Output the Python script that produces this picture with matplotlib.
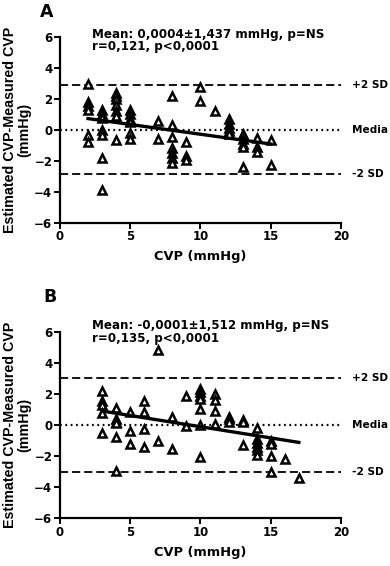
import matplotlib.pyplot as plt
import numpy as np

plt.rcParams['font.family'] = ['DejaVu Sans']
plt.rcParams['font.weight'] = 'bold'

# Panel A: CVP (mmHg) vs estimated-measured difference
cvp_a = [2, 2, 2, 2, 2, 2,
         3, 3, 3, 3, 3, 3, 3,
         4, 4, 4, 4, 4, 4, 4,
         5, 5, 5, 5, 5, 5,
         7, 7,
         8, 8, 8, 8, 8, 8, 8,
         9, 9, 9,
         10, 10,
         11,
         12, 12, 12, 12, 12,
         13, 13, 13, 13, 13,
         14, 14, 14,
         15, 15]
diff_a = [3.0, 1.8, 1.55, 1.3, -0.3, -0.8,
          1.3, 1.0, 0.8, 0.0, -0.3, -1.8, -3.9,
          2.4, 2.2, 2.0, 1.6, 1.2, 0.9, -0.65,
          1.3, 1.0, 0.7, 0.5, -0.2, -0.6,
          0.6, -0.6,
          2.2, 0.3, -0.45, -1.2, -1.5, -1.8, -2.15,
          -0.8, -1.7, -1.95,
          2.8, 1.85,
          1.2,
          0.7, 0.35, 0.15, -0.05, -0.25,
          -0.25, -0.6, -0.9, -1.1, -2.4,
          -0.5, -1.1, -1.4,
          -0.65, -2.3]
mean_a, sd_a = 0.0004, 1.437
text_a = ["Mean: 0,0004\u00b11,437 mmHg, p=NS", "r=0,121, p<0,0001"]

# Panel B
cvp_b = [3, 3, 3, 3, 3,
         4, 4, 4, 4, 4, 4,
         5, 5, 5,
         6, 6, 6, 6,
         7, 7,
         8, 8,
         9, 9,
         10, 10, 10, 10, 10, 10, 10,
         11, 11, 11, 11,
         12, 12, 12,
         13, 13, 13,
         14, 14, 14, 14, 14, 14,
         15, 15, 15, 15,
         16,
         17]
diff_b = [2.2, 1.5, 1.3, 0.73, -0.5,
          1.05, 0.37, 0.2, 0.1, -0.8, -3.0,
          0.8, -0.43, -1.25,
          1.55, 0.85, -0.3, -1.45,
          4.8, -1.03,
          0.5, -1.57,
          1.87, -0.06,
          2.3, 2.1, 1.87, 1.65, 1.0, 0.0, -2.06,
          2.0, 1.6, 0.9, 0.04,
          0.5, 0.37, 0.2,
          0.3, 0.15, -1.3,
          -0.2, -0.92, -1.2, -1.46, -1.63, -1.94,
          -1.03, -1.25, -2.0, -3.07,
          -2.2,
          -3.4]
mean_b, sd_b = -0.0001, 1.512
text_b = ["Mean: -0,0001\u00b11,512 mmHg, p=NS", "r=0,135, p<0,0001"]

sd_labels = ["+2 SD", "Media", "-2 SD"]
x_ticks = [0, 5, 10, 15, 20]
y_ticks = [-6, -4, -2, 0, 2, 4, 6]

fig = plt.figure(figsize=(3.9, 5.66), dpi=100)
ax_a = fig.add_axes([0.1538, 0.6066, 0.7205, 0.3278])
ax_b = fig.add_axes([0.1538, 0.0848, 0.7205, 0.3295])


def draw_panel(ax, x, y, mean, sd, lines, text_y, letter, letter_xy):
    x = np.array(x, dtype=float)
    y = np.array(y, dtype=float)
    ax.set_xlim(0, 20)
    ax.set_ylim(-6, 6)
    ax.plot(x, y, linestyle='none', marker='^', markersize=6,
            markerfacecolor='white', markeredgecolor='black',
            markeredgewidth=1.8, zorder=3)
    # regression line
    k, b = np.polyfit(x, y, 1)
    xs = np.array([x.min(), x.max()])
    ax.plot(xs, k * xs + b, color='black', lw=2.4, zorder=4)
    # mean and +/- 2 SD
    ax.axhline(mean, color='black', lw=1.6, ls=(0, (0.8, 1.6)), zorder=2)
    for s in (1, -1):
        ax.axhline(mean + s * 2 * sd, color='black', lw=1.3,
                   ls=(0, (4.5, 2.2)), zorder=2)
    for lab, yy in zip(sd_labels, [mean + 2 * sd, mean, mean - 2 * sd]):
        ax.text(20.8, yy, lab, fontsize=7.6, fontweight='bold',
                va='center', ha='left', clip_on=False)
    for line, ty in zip(lines, text_y):
        ax.text(2.28, ty, line, fontsize=8.6, fontweight='bold',
                va='center', ha='left', clip_on=False)
    fig.text(letter_xy[0], letter_xy[1], letter, fontsize=12.5,
             fontweight='bold', va='center', ha='center')

    ax.spines['top'].set_visible(False)
    ax.spines['right'].set_visible(False)
    ax.spines['left'].set_linewidth(1.6)
    ax.spines['bottom'].set_linewidth(1.6)
    ax.set_xticks(x_ticks)
    ax.set_yticks(y_ticks)
    ax.tick_params(width=1.4, length=4, labelsize=8.5, pad=1.5)
    for t in ax.get_xticklabels() + ax.get_yticklabels():
        t.set_fontweight('bold')
    ax.set_xlabel('CVP (mmHg)', fontsize=9.4, fontweight='bold', labelpad=5)
    ax.set_ylabel('Estimated CVP-Measured CVP\n(mmHg)', fontsize=10.3,
                  fontweight='bold', linespacing=1.0,
                  family=['Liberation Sans', 'DejaVu Sans'])
    ax.yaxis.set_label_coords(-0.103, 0.5)


draw_panel(ax_a, cvp_a, diff_a, mean_a, sd_a, text_a, [6.17, 5.37],
           'A', (47 / 390, 1 - 12 / 566))
draw_panel(ax_b, cvp_b, diff_b, mean_b, sd_b, text_b, [6.39, 5.58],
           'B', (50 / 390, 1 - 297 / 566))

fig.savefig('out.png', dpi=100)
